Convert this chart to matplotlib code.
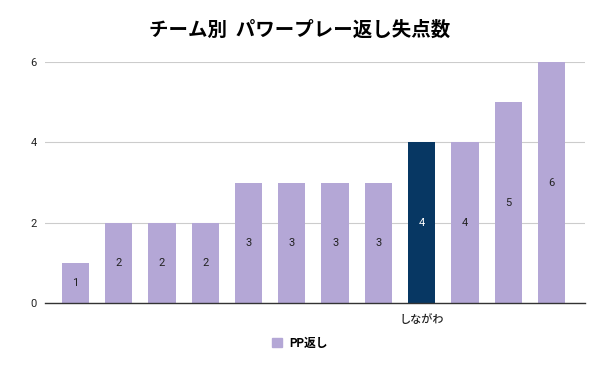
import matplotlib
matplotlib.use("Agg")
import matplotlib.pyplot as plt
from matplotlib.patches import Patch

plt.rcParams['font.family'] = ['Roboto', 'Noto Sans CJK JP', 'DejaVu Sans']

# チームごとの値（ラベルは「しながわ」のみ表示）
teams = ["", "", "", "", "", "", "", "", "しながわ", "", "", ""]
values = [1, 2, 2, 2, 3, 3, 3, 3, 4, 4, 5, 6]
highlight = "しながわ"

base_color = "#b4a7d6"
hl_color = "#073763"

fig = plt.figure(figsize=(6, 3.71), dpi=100)
ax = fig.add_axes([0.075, 0.183, 0.9, 0.65])

x = list(range(len(values)))
colors = [hl_color if t == highlight else base_color for t in teams]
bars = ax.bar(x, values, width=0.63, color=colors, zorder=3)

for b, v, t in zip(bars, values, teams):
    tc = "white" if t == highlight else "#222222"
    ax.text(b.get_x() + b.get_width() / 2, v / 2, str(v), ha="center", va="center",
            fontsize=8, color=tc, zorder=4)

ax.set_xlim(-0.7, 11.77)
ax.set_ylim(0, 6)
ax.set_yticks([0, 2, 4, 6])
ax.set_xticks(x)
ax.set_xticklabels(teams, fontsize=8, fontweight="medium")
ax.tick_params(length=0, labelsize=8, colors="#222222")
ax.tick_params(axis="y", pad=6)
ax.tick_params(axis="x", pad=8)
ax.grid(axis="y", color="#cccccc", linewidth=0.8, zorder=0)
for s in ["top", "right", "left"]:
    ax.spines[s].set_visible(False)
ax.spines["bottom"].set_color("#333333")
ax.spines["bottom"].set_linewidth(1)
ax.spines["bottom"].set_zorder(5)

fig.text(0.5, 0.919, "チーム別  パワープレー返し失点数", ha="center", va="center",
         fontsize=14, fontweight="bold", family=['Noto Sans CJK JP', 'DejaVu Sans'])

fig.legend(handles=[Patch(color=base_color, label="PP返し")], loc="center",
           bbox_to_anchor=(0.5, 0.075), frameon=False,
           prop={'size': 8.5, 'weight': 'bold', 'family': ['Roboto', 'Noto Sans CJK JP']},
           handlelength=0.8, handleheight=0.8, handletextpad=0.6)

fig.savefig("out.png", dpi=100)
